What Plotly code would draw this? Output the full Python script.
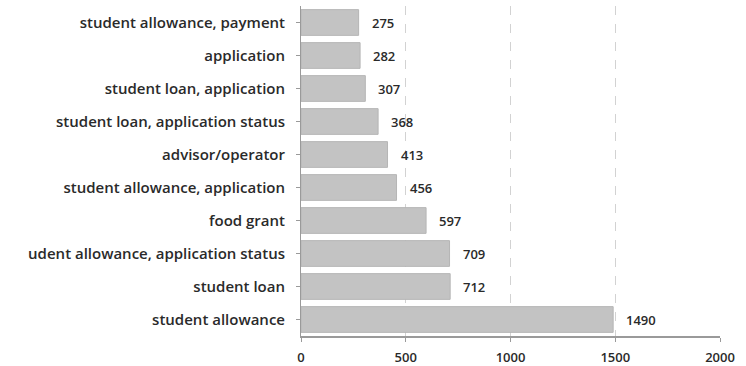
import plotly.graph_objects as go

categories = [
    "student allowance, payment",
    "application",
    "student loan, application",
    "student loan, application status",
    "advisor/operator",
    "student allowance, application",
    "food grant",
    "udent allowance, application status",
    "student loan",
    "student allowance",
]
values = [275, 282, 307, 368, 413, 456, 597, 709, 712, 1490]
x_ticks = [0, 500, 1000, 1500, 2000]

font_family = "Open Sans, Liberation Sans, sans-serif"

fig = go.Figure()
fig.add_trace(go.Bar(
    x=values,
    y=categories,
    orientation="h",
    width=0.78,
    marker=dict(color="#c3c3c3", line=dict(color="#b5b5b5", width=1)),
    hoverinfo="x+y",
))

for v, c in zip(values, categories):
    fig.add_annotation(
        x=v, y=c, text=str(v), showarrow=False,
        xanchor="left", xshift=11,
        font=dict(family=font_family, size=13, color="#2a2a2a", weight=600),
    )

fig.update_layout(
    width=746, height=366,
    margin=dict(l=301, r=26, t=6, b=30, autoexpand=False),
    plot_bgcolor="white", paper_bgcolor="white",
    showlegend=False,
    font=dict(family=font_family, size=12, color="#2a2a2a"),
    bargap=0.2,
)
fig.update_xaxes(
    range=[0, 2000], tickvals=x_ticks,
    automargin=False,
    showgrid=True, gridcolor="#d2d2d2", griddash="dash", gridwidth=1,
    showline=True, linecolor="#9a9a9a", linewidth=1.5,
    ticks="outside", ticklen=4, tickcolor="#9a9a9a",
    ticklabelstandoff=5,
    tickfont=dict(family=font_family, size=13, color="#2a2a2a", weight=600),
    zeroline=False,
)
fig.update_yaxes(
    autorange="reversed",
    automargin=False,
    showline=True, linecolor="#9a9a9a", linewidth=1,
    ticks="outside", ticklen=4, tickcolor="#9a9a9a",
    ticklabelstandoff=8,
    tickfont=dict(family=font_family, size=15, color="#2a2a2a", weight=600),
)

fig.write_html(
    "out.html",
    config={"displayModeBar": False},
    post_script="document.body.style.margin='0';",
)
